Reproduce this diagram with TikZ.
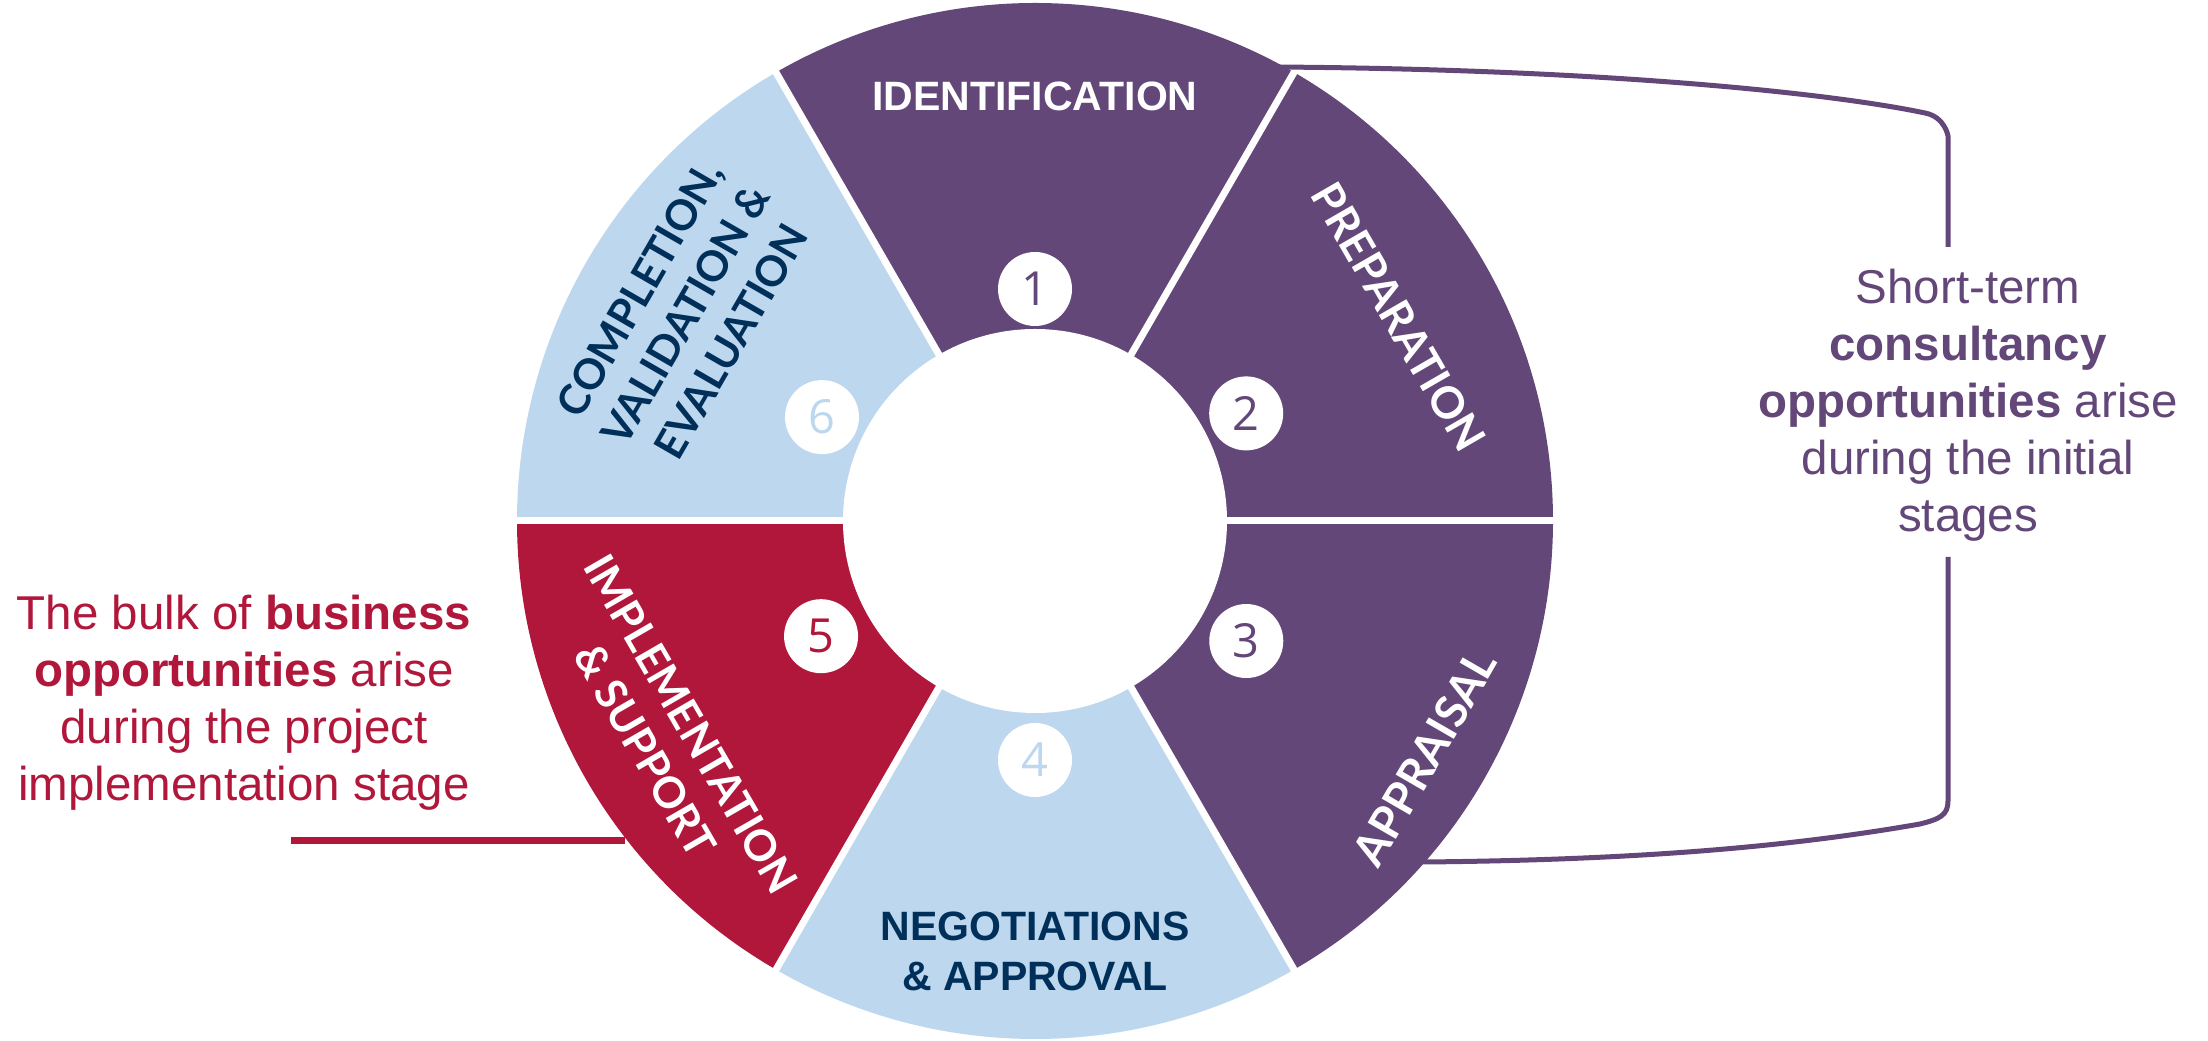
\documentclass[tikz,border=0pt]{standalone}
\usepackage{fontspec}
\setmainfont{Liberation Sans}
\newfontfamily\latofont{Lato}
\newfontfamily\numfont{Open Sans}
\definecolor{cpurple}{HTML}{634778}
\definecolor{cblue}{HTML}{BDD7EE}
\definecolor{cred}{HTML}{B0173A}
\definecolor{cnavy}{HTML}{00305A}
\begin{document}
\begin{tikzpicture}[x=1pt,y=1pt,
  numcirc/.style={circle,fill=white,minimum size=74pt,inner sep=0pt,font=\numfont\fontsize{47}{47}\selectfont},
  boldlabel/.style={font=\bfseries\fontsize{41}{50}\selectfont,align=center,inner sep=0pt},
  gilllabel/.style={font=\latofont\bfseries\fontsize{42}{53}\selectfont,align=center,inner sep=0pt},
  desc/.style={font=\fontsize{47.5}{57}\selectfont,align=center,inner sep=0pt},
  sepline/.style={white,line width=7pt},
  bracketline/.style={draw=cpurple,line width=5pt},
  redline/.style={draw=cred,line width=7pt}]
\useasboundingbox (0,0) rectangle (2208,1041);
\fill[white] (0,0) rectangle (2208,1041);
\begin{scope}[shift={(1035,520)}]
  \fill[cpurple] (0,0) -- (0:518pt) arc[start angle=0,end angle=120,radius=518pt] -- cycle;
  \fill[cpurple] (0,0) -- (-60:518pt) arc[start angle=-60,end angle=0,radius=518pt] -- cycle;
  \fill[cblue] (0,0) -- (-120:518pt) arc[start angle=-120,end angle=-60,radius=518pt] -- cycle;
  \fill[cred] (0,0) -- (180:518pt) arc[start angle=180,end angle=240,radius=518pt] -- cycle;
  \fill[cblue] (0,0) -- (120:518pt) arc[start angle=120,end angle=180,radius=518pt] -- cycle;
  \foreach \a in {0,60,...,300} \draw[sepline] (0,0) -- (\a:524pt);
  \fill[white] (0,0) circle[radius=192pt];
  % number circles
  \node[numcirc,text=cpurple] (n1) at (90:232pt) {1};
  \node[numcirc,text=cpurple] (n2) at (27:237pt) {2};
  \node[numcirc,text=cpurple] (n3) at (-29.6:243pt) {3};
  \node[numcirc,text=cblue] (n4) at (-90:239pt) {4};
  \node[numcirc,text=cred] (n5) at (208.3:243pt) {5};
  \node[numcirc,text=cblue] (n6) at (154:237pt) {6};
  % segment labels
  \node[boldlabel,text=white] (l1) at (90:425pt) {IDENTIFICATION};
  \node[gilllabel,font=\latofont\bfseries\fontsize{44}{53}\selectfont,text=white,rotate=-60] (l2) at (29.3:417pt) {PREPARATION};
  \node[gilllabel,font=\latofont\bfseries\fontsize{45}{53}\selectfont,text=white,rotate=60] (l3) at (-31.3:456pt) {APPRAISAL};
  \node[boldlabel,text=cnavy] (l4) at (-90:430pt) {NEGOTIATIONS\\\& APPROVAL};
  \node[gilllabel,font=\latofont\bfseries\fontsize{43}{53}\selectfont,text=white,rotate=-60] (l5) at (210.5:426pt) {IMPLEMENTATION\\\& SUPPORT};
  \node[gilllabel,text=cnavy,rotate=60] (l6) at (149.5:406pt) {COMPLETION,\\VALIDATION \&\\EVALUATION};
\end{scope}
% right bracket
\coordinate (tA) at (1272,974);
\coordinate (tB) at (1925,928);
\coordinate (tC) at (1948,905);
\coordinate (tD) at (1948,794);
\coordinate (bA) at (1948,484);
\coordinate (bB) at (1948,240);
\coordinate (bC) at (1920,217);
\coordinate (bD) at (1423,179);
\draw[bracketline] (tA) .. controls (1600,972) and (1830,948) .. (tB) .. controls (1945,924) and (tC) .. (tC) -- (tD);
\draw[bracketline] (bA) -- (bB) .. controls (1948,226) and (1940,222) .. (bC) .. controls (1800,196) and (1650,181) .. (bD);
\node[desc,text=cpurple] (rtext) at (1968,636) {Short-term\\\textbf{consultancy}\\\textbf{opportunities} arise\\during the initial\\stages};
% left line and text
\coordinate (rl1) at (291,200);
\coordinate (rl2) at (625,200);
\draw[redline] (rl1) -- (rl2);
\node[desc,text=cred] (ltext) at (244,338) {The bulk of \textbf{business}\\\textbf{opportunities} arise\\during the project\\implementation stage};
\end{tikzpicture}
\end{document}
